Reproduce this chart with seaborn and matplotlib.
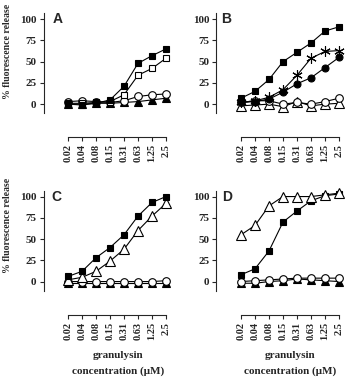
import numpy as np
import pandas as pd
import matplotlib
matplotlib.use("Agg")
import matplotlib.pyplot as plt
import seaborn as sns

# granulysin concentrations (uM), shown as categories
conc = ["0.02", "0.04", "0.08", "0.15", "0.31", "0.63", "1.25", "2.5"]

# panel A
a_fsq = [0, -1, 1, 5, 21, 48, 57, 65]
a_osq = [1, 1, 2, 3, 11, 34, 42, 54]
a_ocir = [3, 4, 3, 2, 4, 9, 11, 12]
a_ftri = [0, 0, 1, 1, 2, 3, 5, 7]

# panel B
b_fsq = [7, 15, 29, 50, 61, 72, 86, 91]
b_star = [2, 4, 8, 17, 34, 54, 62, 63]
b_fcir = [2, 3, 6, 14, 24, 31, 43, 55]
b_ocir = [2, 4, 4, 0, 2, 0, 3, 7]
b_otri = [-2, -1, 0, -3, 3, -2, 0, 1]

# panel C
c_fsq = [6, 12, 28, 40, 55, 77, 93, 100]
c_otri = [2, 5, 12, 24, 38, 60, 77, 92]
c_ocir = [0, 0, 0, 0, 0, 0, 0, 1]
c_ftri = [-2, -2, -2, -2, -2, -2, -2, -2]

# panel D
d_otri = [55, 66, 89, 100, 100, 100, 102, 104]
d_fsq = [8, 15, 36, 70, 83, 95, 101, 103]
d_ocir = [0, 1, 2, 3, 4, 4, 4, 4]
d_ftri = [-2, -2, 0, 1, 3, 2, 1, 0]

sns.set_style("ticks")
plt.rcParams["font.family"] = ["Liberation Serif", "DejaVu Serif"]
plt.rcParams["font.weight"] = "bold"

# marker styles: (marker, facecolor, size)
styles = {
    "fsq": ("s", "black", 5),
    "osq": ("s", "white", 5),
    "fcir": ("o", "black", 5),
    "ocir": ("o", "white", 5.5),
    "ftri": ("^", "black", 5.5),
    "otri": ("^", "white", 6.5),
    "star": ((6, 2, 0), "black", 7.5),
}

panels = {
    "A": [("ftri", a_ftri), ("ocir", a_ocir), ("osq", a_osq), ("fsq", a_fsq)],
    "B": [("otri", b_otri), ("ocir", b_ocir), ("fcir", b_fcir), ("star", b_star), ("fsq", b_fsq)],
    "C": [("ftri", c_ftri), ("ocir", c_ocir), ("otri", c_otri), ("fsq", c_fsq)],
    "D": [("ftri", d_ftri), ("ocir", d_ocir), ("fsq", d_fsq), ("otri", d_otri)],
}

W, H = 347, 377
fig = plt.figure(figsize=(W / 100, H / 100), dpi=100)

xlim = (-1.75, 7.4)
ylim = (-39, 110)
ax_w = (xlim[1] - xlim[0]) * 14
ax_h = (ylim[1] - ylim[0]) * 0.85
# left edge px, bottom edge px (from top)
pos = {"A": (43.5, 137.3), "B": (216.5, 137.3), "C": (43.5, 314.7), "D": (216.5, 314.7)}
letter_x = {"A": -1.1, "B": -1.45, "C": -1.2, "D": -1.35}

x = np.arange(len(conc))
for name, series in panels.items():
    lx, by = pos[name]
    ax = fig.add_axes([lx / W, 1 - by / H, ax_w / W, ax_h / H])
    for key, vals in series:
        m, fc, ms = styles[key]
        df = pd.DataFrame({"conc": x, "val": vals})
        sns.lineplot(data=df, x="conc", y="val", ax=ax, color="black", lw=0.8,
                     marker=m, markersize=ms, markerfacecolor=fc,
                     markeredgecolor="black", markeredgewidth=0.8)
    ax.set_xlim(*xlim)
    ax.set_ylim(*ylim)
    ax.set_xticks(x)
    ax.set_xticklabels(conc, rotation=90, fontsize=7.5, fontweight="bold")
    ax.set_yticks([0, 25, 50, 75, 100])
    ax.set_yticklabels(["0", "25", "50", "75", "100"], fontsize=8, fontweight="bold")
    ax.tick_params(axis="both", length=3, width=0.8, pad=2)
    sns.despine(ax=ax)
    ax.spines["left"].set_bounds(-11, 107)
    ax.spines["bottom"].set_bounds(0, 7)
    for s in ("left", "bottom"):
        ax.spines[s].set_linewidth(0.8)
    ax.set_xlabel("")
    ax.set_ylabel("")
    ax.text(letter_x[name], 108, name, va="top", ha="left", fontsize=10,
            fontweight="bold", family=["Liberation Sans", "DejaVu Sans"])

# y axis labels
for cy in (51, 225):
    fig.text(8 / W, 1 - cy / H, "% fluorescence release", rotation=90,
             ha="center", va="center", fontsize=7, fontweight="bold")

# x axis labels
for cx in (118, 290):
    fig.text(cx / W, 1 - 356 / H, "granulysin", ha="center", va="center",
             fontsize=8, fontweight="bold")
    fig.text(cx / W, 1 - 371 / H, "concentration (\u03bcM)", ha="center", va="center",
             fontsize=8, fontweight="bold")

fig.savefig("out.png", dpi=100)
